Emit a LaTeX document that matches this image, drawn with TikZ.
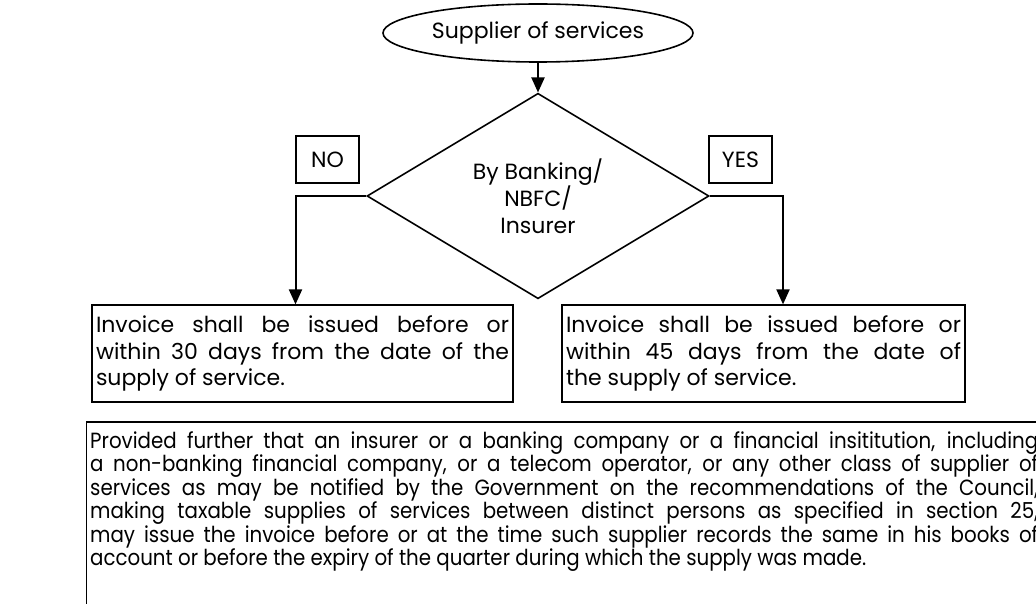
\documentclass[tikz,border=0pt]{standalone}
\usepackage{fontspec}
\setmainfont{Poppins}
\newfontfamily\provisofont[FakeStretch=0.9]{Poppins}
\usetikzlibrary{arrows.meta,positioning,shapes.geometric}
\tikzset{
  txt/.style={font=\fontsize{22}{26.5}\selectfont},
  start/.style={ellipse,draw,line width=1.6pt,minimum width=310pt,minimum height=58pt,inner sep=0pt,txt},
  decision/.style={diamond,draw,line width=1.6pt,minimum width=342pt,minimum height=200pt,inner sep=0pt,align=center,txt},
  tag/.style={draw,line width=1.2pt,minimum width=63pt,minimum height=47pt,inner sep=0pt,txt},
  result/.style={draw,line width=1.2pt,minimum height=97pt,inner sep=4pt,align=justify,txt},
  flow/.style={-{Triangle[length=15pt,width=13pt]},line width=2pt},
}

\begin{document}
\begin{tikzpicture}[x=1pt,y=-1pt]
\useasboundingbox (0,0) rectangle (1036,604);
\node[start] (supplier) at (538,33) {Supplier of services};
\node[decision] (bank) at (538,196) {By Banking/\\NBFC/\\Insurer};
\node[tag] (no) at (327.5,159.5) {NO};
\node[tag] (yes) at (740.5,159.5) {YES};
\node[result,text width=413pt] (inv30) at (302.5,353.5)
  {Invoice shall be issued before or\linebreak within 30 days from the date of the\linebreak supply of service.};
\node[result,text width=395pt] (inv45) at (763.5,353.5)
  {Invoice shall be issued before or\linebreak within 45 days from the date of\linebreak the supply of service.};
\draw[flow] (supplier) -- (bank);
\draw[flow] (bank.west) -| ([xshift=-7pt]inv30.north);
\draw[flow] (bank.east) -| ([xshift=19.5pt]inv45.north);
% proviso box, runs off the page to the right and below
\node[anchor=north west,text width=948pt,inner sep=4pt,align=justify,
  font=\provisofont\fontsize{22}{23.5}\selectfont] (proviso) at (86,427)
  {Provided further that an insurer or a banking company or a financial insititution, including\linebreak
   a non-banking financial company, or a telecom operator, or any other class of supplier of\linebreak
   services as may be notified by the Government on the recommendations of the Council,\linebreak
   making taxable supplies of services between distinct persons as specified in section 25,\linebreak
   may issue the invoice before or at the time such supplier records the same in his books of\linebreak
   account or before the expiry of the quarter during which the supply was made.};
\coordinate (pagefoot) at (0,610);
\draw[line width=2.5pt] ([yshift=5pt]proviso.north west) -- ([yshift=5pt]proviso.north east);
\draw[line width=1pt] ([yshift=5pt]proviso.north west) -- (proviso.north west |- pagefoot);
\end{tikzpicture}
\end{document}
